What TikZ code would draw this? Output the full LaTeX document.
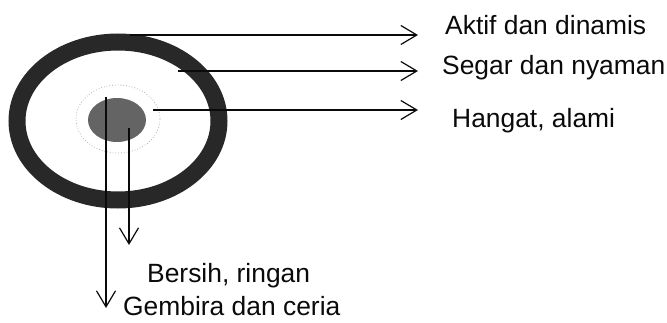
\documentclass[tikz,border=0pt]{standalone}
\usepackage{fontspec}
\setmainfont{Liberation Sans}
\usetikzlibrary{arrows.meta,positioning}
\definecolor{ringgray}{RGB}{40,40,40}
\definecolor{coregray}{RGB}{100,100,100}
\definecolor{ink}{RGB}{10,10,10}
\tikzset{
  >={Straight Barb[length=16pt,width=19pt,line width=1.2pt]},
  arr/.style={->,draw=ink,line width=1.3pt},
  lbl/.style={anchor=base west,inner sep=0pt,text=ink,font=\fontsize{26.4}{30}\selectfont},
}
\begin{document}
\begin{tikzpicture}[x=1pt,y=-1pt]
  \useasboundingbox (0,0) rectangle (667,323);
  % rings
  \draw[ringgray,line width=17pt] (118,121) ellipse [x radius=101,y radius=79];
  \draw[gray!60,dotted,line width=0.8pt] (118,119) ellipse [x radius=42,y radius=34];
  \fill[coregray] (117,120) ellipse [x radius=29,y radius=22];
  % start points
  \coordinate (aktifstart) at (130,35);
  \coordinate (segarstart) at (178,71);
  \coordinate (hangatstart) at (153,110);
  \coordinate (gembirastart) at (106,97);
  \coordinate (bersihstart) at (129,128);
  % end points
  \coordinate (aktifend) at (418,35);
  \coordinate (segarend) at (418,71);
  \coordinate (hangatend) at (418,110);
  \coordinate (gembiraend) at (106,308);
  \coordinate (bersihend) at (129,245);
  % labels
  \node[lbl] (aktif) at (445,35) {Aktif dan dinamis};
  \node[lbl] (segar) at (442,75) {Segar dan nyaman};
  \node[lbl] (hangat) at (452,128) {Hangat, alami};
  \node[lbl] (bersih) at (147,283) {Bersih, ringan};
  \node[lbl] (gembira) at (123,316) {Gembira dan ceria};
  % arrows
  \draw[arr] (aktifstart) -- (aktifend);
  \draw[arr] (segarstart) -- (segarend);
  \draw[arr] (hangatstart) -- (hangatend);
  \draw[arr] (gembirastart) -- (gembiraend);
  \draw[arr] (bersihstart) -- (bersihend);
\end{tikzpicture}
\end{document}
